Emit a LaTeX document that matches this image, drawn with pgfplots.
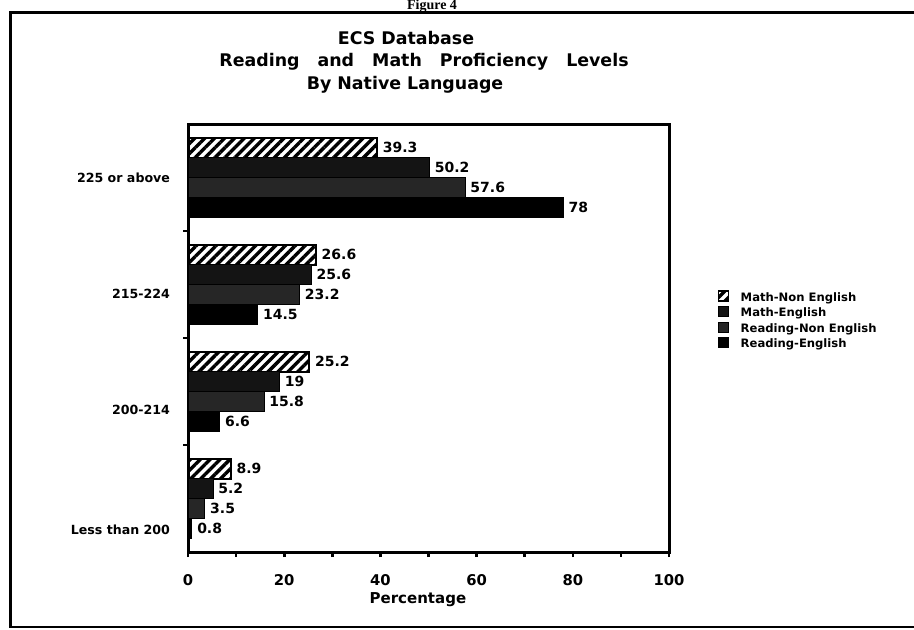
\documentclass[border=0pt]{standalone}
\usepackage{fontspec}
\setmainfont{DejaVu Sans}
\newfontfamily\figfont{Liberation Serif}
\usepackage{pgfplots}
\pgfplotsset{compat=1.18}
\usetikzlibrary{patterns.meta}

\newcommand\bfs[1]{\fontsize{#1}{#1}\selectfont\bfseries}

% groups: 0 = 225 or above ... 3 = Less than 200
\pgfplotstableread{
y   mne   me    rne   re
0   39.3  50.2  57.6  78
1   26.6  25.6  23.2  14.5
2   25.2  19    15.8  6.6
3   8.9   5.2   3.5   0.8
}\profdata

\begin{document}
\begin{tikzpicture}
\useasboundingbox (0,0) rectangle (457pt,315pt);
% frame and titles, in pixels of the scan (y down)
\begin{scope}[x=0.5pt,y=-0.5pt,yshift=315pt]
  \draw[line width=1.5pt] (10,628) -- (10,13) -- (914,13);
  \draw[line width=1.2pt] (10,627) -- (914,627);
  \node[font=\figfont\bfs{7}, anchor=base, inner sep=0pt] at (432,10) {Figure 4};
  \node[font=\bfs{8.7}] at (406,38) {ECS Database};
  \node[font=\bfs{8.7}] at (424,62) {Reading\hspace{9pt}and\hspace{9pt}Math\hspace{9pt}Proficiency\hspace{9pt}Levels};
  \node[font=\bfs{8.7}] at (405,85) {By Native Language};
\end{scope}

\begin{axis}[
  at={(94pt,39pt)}, anchor=south west,
  scale only axis, width=240.5pt, height=214pt,
  xbar, bar width=0.185,
  xmin=0, xmax=100,
  ymin=-0.5, ymax=3.5, y dir=reverse,
  xtick={0,20,...,100}, minor xtick={10,30,...,90},
  xtick pos=bottom, ytick pos=left,
  tick align=outside,
  major tick length=2.5pt, minor tick length=2.5pt,
  every tick/.style={line width=1.3pt, black},
  axis line style={line width=1.5pt},
  ytick={0,1.09,2.17,3.29},
  yticklabels={225 or above, 215-224, 200-214, Less than 200},
  major y tick style={draw=none},
  minor ytick={0.5,1.5,2.5},
  /pgf/number format/assume math mode=true,
  xticklabel style={font=\bfs{7.4}, yshift=-5pt},
  yticklabel style={font=\bfs{6.3}, xshift=-3pt},
  xlabel={Percentage},
  xlabel style={font=\bfs{7.5}, at={(axis description cs:0.478,0)}, anchor=center, yshift=-24pt},
  nodes near coords,
  every node near coord/.append style={font=\bfs{7}, anchor=west, inner sep=1pt, fill=white, xshift=1.5pt},
  legend style={draw=none, at={(1.1,0.612)}, anchor=north west, font=\bfs{5.8},
    inner sep=0pt, row sep=2.2pt,
    nodes={inner sep=0pt, text height=5pt, text depth=0pt},
    /tikz/every odd column/.append style={column sep=6pt}},
  legend cell align=left,
  legend image code/.code={\draw[#1, line width=0.6pt] (0pt,-2.5pt) rectangle (5pt,2.5pt);},
]
\addplot[draw=black, line width=0.8pt, bar shift=-0.2775,
  pattern={Lines[angle=45,distance=3.5pt,line width=1.7pt]}]
  table[x=mne, y=y] {\profdata};
\addplot[draw=black, fill=black!92, bar shift=-0.0925]
  table[x=me, y=y] {\profdata};
\addplot[draw=black, fill=black!85, bar shift=0.0925]
  table[x=rne, y=y] {\profdata};
\addplot[draw=black, fill=black, bar shift=0.2775]
  table[x=re, y=y] {\profdata};
\legend{Math-Non English, Math-English, Reading-Non English, Reading-English}
\end{axis}
\end{tikzpicture}
\end{document}
